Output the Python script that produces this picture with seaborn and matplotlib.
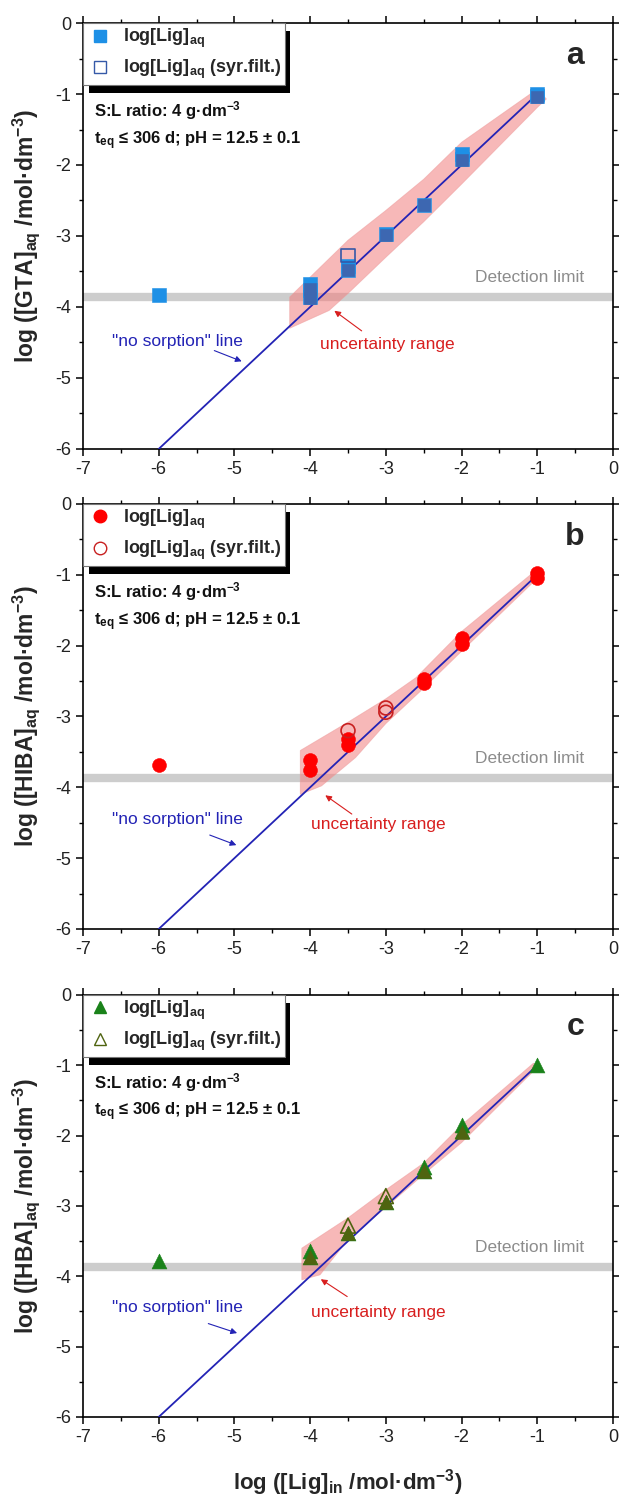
import numpy as np
import pandas as pd
import seaborn as sns
import matplotlib
matplotlib.use("Agg")
import matplotlib.pyplot as plt
from matplotlib.lines import Line2D
from matplotlib.ticker import MultipleLocator
import matplotlib.patheffects as pe

# ---------------- data ----------------
# no-sorption line endpoints
ns_x = [-6.0, -1.0]
ns_y = [-6.0, -1.0]
det_limit = -3.865

# Panel a (GTA)
a_fill_x = [-6, -4, -4, -4, -3.5, -3.5, -3, -2.5, -2, -2, -1, -1]
a_fill_y = [-3.83, -3.68, -3.76, -3.86, -3.42, -3.48, -2.97, -2.56, -1.85, -1.92, -1.00, -1.03]
a_rep_x = [-4, -4, -3.5, -3, -2.5, -2, -1]
a_rep_y = [-3.75, -3.88, -3.48, -2.99, -2.57, -1.93, -1.04]
a_open_x = [-3.5]
a_open_y = [-3.27]
a_band_x = [-4.27, -3.5, -3.0, -2.5, -2.0, -1.0, -0.88, -1.0, -2.0, -2.5, -3.0, -3.5, -3.75, -4.27]
a_band_y = [-3.86, -3.06, -2.64, -2.20, -1.68, -0.93, -1.07, -1.19, -2.27, -2.80, -3.30, -3.81, -4.05, -4.30]

# Panel b (HIBA)
b_fill_x = [-6, -4, -4, -3.5, -3.5, -2.5, -2.5, -2, -2, -1, -1]
b_fill_y = [-3.68, -3.61, -3.75, -3.32, -3.40, -2.47, -2.53, -1.89, -1.98, -0.98, -1.04]
b_rep_x = []
b_rep_y = []
b_open_x = [-3.5, -3, -3]
b_open_y = [-3.20, -2.88, -2.94]
b_band_x = [-4.13, -3.5, -3.0, -2.6, -2.0, -1.0, -0.95, -1.0, -2.0, -2.5, -3.0, -3.4, -3.85, -4.13]
b_band_y = [-3.48, -3.08, -2.75, -2.45, -1.80, -0.92, -0.97, -1.05, -2.08, -2.60, -3.10, -3.58, -3.98, -4.10]

# Panel c (HBA)
c_fill_x = [-6, -4, -4, -3.5, -3, -2.5, -2.5, -2, -2, -1]
c_fill_y = [-3.78, -3.64, -3.72, -3.38, -2.94, -2.44, -2.51, -1.85, -1.94, -1.00]
c_rep_x = [-4, -3.5, -3, -2.5, -2]
c_rep_y = [-3.73, -3.39, -2.95, -2.51, -1.95]
c_open_x = [-3.5, -3]
c_open_y = [-3.28, -2.86]
c_band_x = [-4.11, -3.5, -3.0, -2.5, -2.0, -1.05, -1.0, -2.0, -2.5, -3.0, -3.5, -3.87, -4.11]
c_band_y = [-3.60, -3.17, -2.77, -2.39, -1.85, -0.97, -1.03, -2.10, -2.55, -3.02, -3.48, -3.98, -4.05]

x_ticks = [-7, -6, -5, -4, -3, -2, -1, 0]
y_ticks = [0, -1, -2, -3, -4, -5, -6]

# ---------------- style ----------------
sns.set_theme(style="ticks")
plt.rcParams["font.family"] = ["Liberation Sans", "DejaVu Sans"]
plt.rcParams["mathtext.fontset"] = "custom"
plt.rcParams["mathtext.rm"] = "Liberation Sans"
plt.rcParams["mathtext.bf"] = "Liberation Sans:bold"
plt.rcParams["mathtext.it"] = "Liberation Sans:italic"
plt.rcParams["axes.unicode_minus"] = False

fig = plt.figure(figsize=(6.19, 14.95), dpi=100)
left, width = 0.1341, 0.8562
axs = [fig.add_axes([left, 0.6997, width, 0.2849]),
       fig.add_axes([left, 0.3786, width, 0.2843]),
       fig.add_axes([left, 0.0522, width, 0.2823])]

panels = [
    dict(fx=a_fill_x, fy=a_fill_y, rx=a_rep_x, ry=a_rep_y, ox=a_open_x, oy=a_open_y,
         bx=a_band_x, by=a_band_y, marker="s", s=90, fcol="#1e90e6", rcol="#3d67b1",
         ocol="#3559a8", ylabel=r"log ([GTA]$_\mathbf{aq}$ /mol·dm$^\mathbf{-3}$)", letter="a",
         ns_txt=(-6.62, -4.48), ns_arr=((-5.30, -4.60), (-4.87, -4.78)),
         un_txt=(-3.87, -4.53), un_arr=((-3.29, -4.36), (-3.71, -4.03))),
    dict(fx=b_fill_x, fy=b_fill_y, rx=b_rep_x, ry=b_rep_y, ox=b_open_x, oy=b_open_y,
         bx=b_band_x, by=b_band_y, marker="o", s=100, fcol="#ff0000", rcol="#ff0000",
         ocol="#c82020", ylabel=r"log ([HIBA]$_\mathbf{aq}$ /mol·dm$^\mathbf{-3}$)", letter="b",
         ns_txt=(-6.62, -4.45), ns_arr=((-5.36, -4.66), (-4.94, -4.83)),
         un_txt=(-3.99, -4.53), un_arr=((-3.42, -4.40), (-3.83, -4.09))),
    dict(fx=c_fill_x, fy=c_fill_y, rx=c_rep_x, ry=c_rep_y, ox=c_open_x, oy=c_open_y,
         bx=c_band_x, by=c_band_y, marker="^", s=115, fcol="#1a821a", rcol="#4f6410",
         ocol="#4f6410", ylabel=r"log ([HBA]$_\mathbf{aq}$ /mol·dm$^\mathbf{-3}$)", letter="c",
         ns_txt=(-6.62, -4.45), ns_arr=((-5.38, -4.66), (-4.93, -4.82)),
         un_txt=(-3.99, -4.52), un_arr=((-3.48, -4.31), (-3.89, -4.02))),
]

blue = "#2323b5"
red = "#d81e1e"

for ax, p in zip(axs, panels):
    # detection limit band
    ax.axhline(det_limit, color="#cdcdcd", lw=6, zorder=1)
    # uncertainty range polygon
    ax.fill(p["bx"], p["by"], facecolor="#f27e7e", alpha=0.55, edgecolor="#ec9a9a",
            lw=0.6, zorder=2)
    # no sorption line
    sns.lineplot(x=ns_x, y=ns_y, ax=ax, color=blue, lw=1.3, zorder=3)
    # filled markers
    sns.scatterplot(x=p["fx"], y=p["fy"], ax=ax, marker=p["marker"], s=p["s"],
                    color=p["fcol"], edgecolor=p["fcol"], linewidth=0.4, zorder=5)
    if len(p["rx"]):
        sns.scatterplot(x=p["rx"], y=p["ry"], ax=ax, marker=p["marker"], s=p["s"] * 0.85,
                        color=p["rcol"], edgecolor=p["rcol"], linewidth=0.4, zorder=6)
    # open markers (syringe filtered)
    sns.scatterplot(x=p["ox"], y=p["oy"], ax=ax, marker=p["marker"], s=p["s"],
                    color=p["ocol"], zorder=7)
    coll = ax.collections[-1]
    coll.set_facecolor("none")
    coll.set_edgecolor(p["ocol"])
    coll.set_linewidth(1.2)

    ax.set_xlim(-7, 0)
    ax.set_ylim(-6, 0)
    ax.set_xticks(x_ticks)
    ax.set_yticks(y_ticks)
    ax.set_xticklabels([str(t) for t in x_ticks])
    ax.set_yticklabels([str(t) for t in y_ticks])
    ax.xaxis.set_minor_locator(MultipleLocator(0.5))
    ax.yaxis.set_minor_locator(MultipleLocator(0.5))
    ax.tick_params(which="major", direction="out", length=5, width=1.1, labelsize=13,
                   top=True, right=True, color="black", labelcolor="#222222")
    ax.tick_params(which="minor", direction="out", length=3, width=1.0,
                   top=True, right=True, color="black")
    for sp in ax.spines.values():
        sp.set_visible(True)
        sp.set_color("black")
        sp.set_linewidth(1.2)
    ax.set_xlabel("")
    ax.set_ylabel(p["ylabel"], fontsize=16.5, fontweight="bold")
    ax.yaxis.set_label_coords(-0.078, 0.5)

    # legend
    handles = [Line2D([], [], marker=p["marker"], ls="", color=p["fcol"], ms=9),
               Line2D([], [], marker=p["marker"], ls="", mfc="none", mec=p["ocol"], mew=1.0, ms=9)]
    labels = [r"log[Lig]$_\mathbf{aq}$", r"log[Lig]$_\mathbf{aq}$ (syr.filt.)"]
    leg = ax.legend(handles, labels, loc="upper left", bbox_to_anchor=(0, 1), borderaxespad=0,
                    frameon=True, fancybox=False, framealpha=1,
                    prop={"weight": "bold", "size": 13}, handletextpad=0.5,
                    labelspacing=0.45, borderpad=0.2, handlelength=1.5)
    fr = leg.get_frame()
    fr.set_edgecolor("#777777")
    fr.set_linewidth(0.8)
    fr.set_path_effects([pe.withSimplePatchShadow(offset=(4, -6), shadow_rgbFace="black", alpha=1.0)])
    leg.set_zorder(10)

    # info text
    ax.text(-6.85, -1.24, r"S:L ratio: 4 g·dm$^\mathbf{-3}$", fontsize=12, fontweight="bold",
            va="center", ha="left", color="#111111")
    ax.text(-6.85, -1.66, r"t$_\mathbf{eq}$ ≤ 306 d; pH = 12.5 ± 0.1", fontsize=12,
            fontweight="bold", va="center", ha="left", color="#111111")
    ax.text(-0.5, -0.46, p["letter"], fontsize=23, fontweight="bold", ha="center", va="center")

    ax.text(-1.82, -3.59, "Detection limit", fontsize=12.5, color="#8c8c8c", va="center", ha="left")
    ax.text(p["ns_txt"][0], p["ns_txt"][1], '"no sorption" line', fontsize=12.5, color=blue,
            va="center", ha="left")
    ax.annotate("", xy=p["ns_arr"][1], xytext=p["ns_arr"][0],
                arrowprops=dict(arrowstyle="-|>", color=blue, lw=0.8, mutation_scale=9))
    ax.text(p["un_txt"][0], p["un_txt"][1], "uncertainty range", fontsize=12.5, color=red,
            va="center", ha="left")
    ax.annotate("", xy=p["un_arr"][1], xytext=p["un_arr"][0],
                arrowprops=dict(arrowstyle="-|>", color=red, lw=0.8, mutation_scale=9))

axs[2].set_xlabel(r"log ([Lig]$_\mathbf{in}$ /mol·dm$^\mathbf{-3}$)", fontsize=16, fontweight="bold")
axs[2].xaxis.set_label_coords(0.5, -0.118)

fig.savefig("out.png", dpi=100)
